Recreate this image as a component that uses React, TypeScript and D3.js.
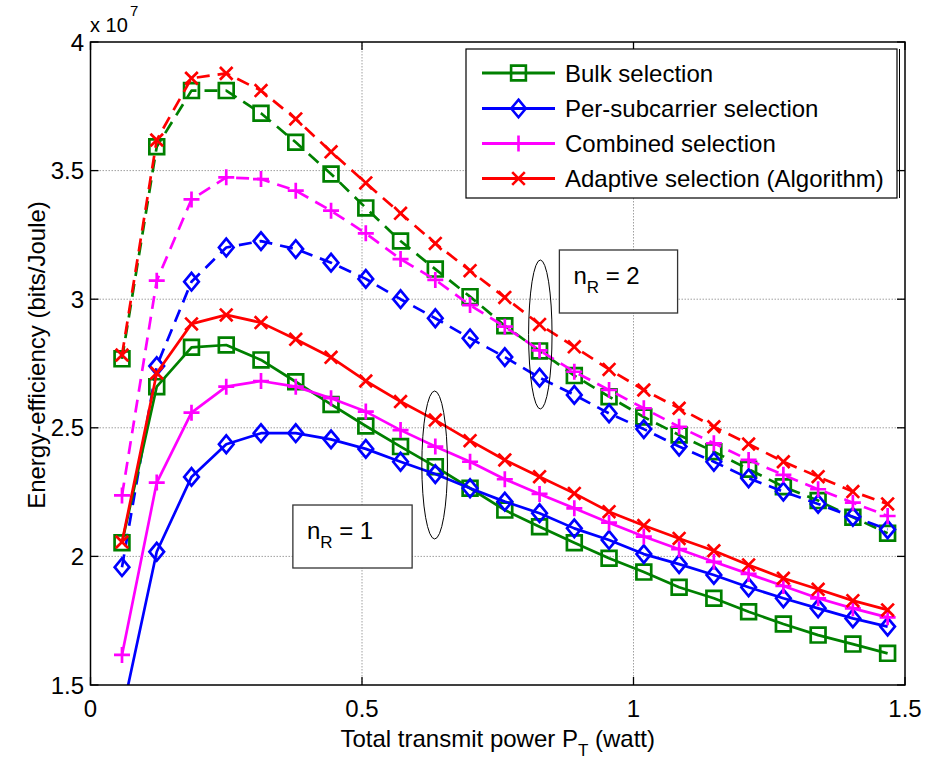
import React from 'react';
import * as d3 from 'd3';

// ---------- data ----------
const powerW = [0.058, 0.122, 0.186, 0.25, 0.314, 0.378, 0.443, 0.507, 0.571, 0.635, 0.699, 0.763,
  0.827, 0.891, 0.955, 1.019, 1.084, 1.148, 1.212, 1.276, 1.34, 1.404, 1.468];

// n_R = 2 (dashed)
const bulkNR2 = [2.768, 3.593, 3.811, 3.811, 3.723, 3.61, 3.487, 3.355, 3.226, 3.117, 3.01, 2.897,
  2.799, 2.703, 2.621, 2.542, 2.472, 2.407, 2.339, 2.271, 2.217, 2.152, 2.09];
const perSubNR2 = [1.958, 2.74, 3.068, 3.201, 3.226, 3.195, 3.142, 3.079, 3.0, 2.926, 2.848, 2.775,
  2.695, 2.628, 2.556, 2.495, 2.427, 2.368, 2.304, 2.252, 2.204, 2.154, 2.105];
const combinedNR2 = [2.237, 3.072, 3.388, 3.474, 3.467, 3.422, 3.344, 3.256, 3.156, 3.075, 2.977, 2.893,
  2.801, 2.718, 2.647, 2.576, 2.504, 2.44, 2.375, 2.317, 2.261, 2.209, 2.157];
const adaptiveNR2 = [2.783, 3.619, 3.859, 3.878, 3.811, 3.701, 3.573, 3.452, 3.334, 3.217, 3.111, 3.007,
  2.902, 2.815, 2.727, 2.647, 2.576, 2.504, 2.437, 2.368, 2.31, 2.252, 2.204];

// n_R = 1 (solid)
const bulkNR1 = [2.053, 2.66, 2.813, 2.822, 2.764, 2.679, 2.591, 2.507, 2.427, 2.349, 2.265, 2.18,
  2.115, 2.053, 1.993, 1.939, 1.88, 1.837, 1.785, 1.737, 1.694, 1.659, 1.623];
const perSubNR1 = [1.388, 2.018, 2.309, 2.436, 2.479, 2.479, 2.455, 2.418, 2.368, 2.32, 2.265, 2.213,
  2.168, 2.109, 2.064, 2.009, 1.97, 1.928, 1.88, 1.837, 1.798, 1.759, 1.727];
const combinedNR1 = [1.617, 2.287, 2.559, 2.66, 2.682, 2.66, 2.615, 2.563, 2.491, 2.427, 2.368, 2.3,
  2.243, 2.187, 2.131, 2.077, 2.028, 1.979, 1.932, 1.885, 1.837, 1.798, 1.763];
const adaptiveNR1 = [2.056, 2.713, 2.904, 2.939, 2.909, 2.844, 2.774, 2.682, 2.602, 2.53, 2.45, 2.375,
  2.31, 2.245, 2.174, 2.12, 2.07, 2.022, 1.967, 1.915, 1.872, 1.828, 1.792];

const seriesNames = ['Bulk selection', 'Per-subcarrier selection', 'Combined selection', 'Adaptive selection (Algorithm)'];
const seriesColors = ['#008000', '#0000ff', '#ff00ff', '#ff0000'];
const seriesMarkers = ['square', 'diamond', 'plus', 'cross'];
const nr2Values = [bulkNR2, perSubNR2, combinedNR2, adaptiveNR2];
const nr1Values = [bulkNR1, perSubNR1, combinedNR1, adaptiveNR1];

const xTicks = [0, 0.5, 1, 1.5];
const xTickLabels = ['0', '0.5', '1', '1.5'];
const yTicks = [1.5, 2, 2.5, 3, 3.5, 4];
const yTickLabels = ['1.5', '2', '2.5', '3', '3.5', '4'];

// annotations in data units
const ellipses = [
  { cx: 0.8284, cy: 2.8628, rx: 0.0216, ry: 0.2897 },
  { cx: 0.6338, cy: 2.3554, rx: 0.0236, ry: 0.2877 },
];
const nrBoxes = [
  { x0: 0.8635, x1: 1.0812, y0: 3.1913, y1: 2.9463, label: '2' },
  { x0: 0.3727, x1: 0.5923, y0: 2.1998, y1: 1.9549, label: '1' },
];

// ---------- layout ----------
const W = 926;
const H = 762;
const FONT = '"Liberation Sans", Arial, Helvetica, sans-serif';
const PL = 90.5, PR = 905, PT = 42, PB = 685;

const x = d3.scaleLinear().domain([0, 1.5]).range([PL, PR]);
const y = d3.scaleLinear().domain([1.5, 4]).range([PB, PT]);

function markerPath(kind: string, cx: number, cy: number): string {
  const p = d3.path();
  if (kind === 'square') {
    const h = 7.4;
    p.rect(cx - h, cy - h, 2 * h, 2 * h);
  } else if (kind === 'diamond') {
    const hw = 7.3, hh = 8.8;
    p.moveTo(cx, cy - hh);
    p.lineTo(cx + hw, cy);
    p.lineTo(cx, cy + hh);
    p.lineTo(cx - hw, cy);
    p.closePath();
  } else if (kind === 'plus') {
    const h = 8;
    p.moveTo(cx - h, cy);
    p.lineTo(cx + h, cy);
    p.moveTo(cx, cy - h);
    p.lineTo(cx, cy + h);
  } else {
    const h = 6.3;
    p.moveTo(cx - h, cy - h);
    p.lineTo(cx + h, cy + h);
    p.moveTo(cx - h, cy + h);
    p.lineTo(cx + h, cy - h);
  }
  return p.toString();
}

const lineGen = d3
  .line<number>()
  .x((_, i) => x(powerW[i]))
  .y((d) => y(d));

function Series({ values, color, marker, dashed }: { values: number[]; color: string; marker: string; dashed: boolean }) {
  return (
    <g>
      <path
        d={lineGen(values) || ''}
        fill="none"
        stroke={color}
        strokeWidth={2.7}
        strokeDasharray={dashed ? '13 8' : undefined}
        strokeLinejoin="round"
      />
      {values.map((v, i) => (
        <path
          key={i}
          d={markerPath(marker, x(powerW[i]), y(v))}
          fill="none"
          stroke={color}
          strokeWidth={2.7}
        />
      ))}
    </g>
  );
}

export default function App() {
  const legendX0 = 466, legendX1 = 897, legendY0 = 49, legendY1 = 198;
  const legendRows = [73, 108.5, 143.5, 178.5];
  return (
    <svg
      width={W}
      height={H}
      viewBox={`0 0 ${W} ${H}`}
      style={{ position: 'absolute', left: 0, top: 0, background: '#fff' }}
      fontFamily={FONT}
    >
      <rect x={0} y={0} width={W} height={H} fill="#fff" />
      <defs>
        <clipPath id="plotClip">
          <rect x={PL} y={PT} width={PR - PL} height={PB - PT} />
        </clipPath>
      </defs>

      {/* grid */}
      <g stroke="#a0a0a0" strokeWidth={1} strokeDasharray="1.5 1.5">
        {xTicks.slice(1, -1).map((t) => (
          <line key={'gx' + t} x1={x(t)} x2={x(t)} y1={PT} y2={PB} />
        ))}
        {yTicks.slice(1, -1).map((t) => (
          <line key={'gy' + t} x1={PL} x2={PR} y1={y(t)} y2={y(t)} />
        ))}
      </g>

      {/* series */}
      <g clipPath="url(#plotClip)">
        {nr2Values.map((vals, i) => (
          <Series key={'d' + i} values={vals} color={seriesColors[i]} marker={seriesMarkers[i]} dashed={true} />
        ))}
        {nr1Values.map((vals, i) => (
          <Series key={'s' + i} values={vals} color={seriesColors[i]} marker={seriesMarkers[i]} dashed={false} />
        ))}
      </g>

      {/* ellipses */}
      {ellipses.map((e, i) => (
        <ellipse
          key={'e' + i}
          cx={x(e.cx)}
          cy={y(e.cy)}
          rx={x(e.cx + e.rx) - x(e.cx)}
          ry={y(e.cy) - y(e.cy + e.ry)}
          fill="none"
          stroke="#000"
          strokeWidth={1}
        />
      ))}

      {/* n_R boxes */}
      {nrBoxes.map((b, i) => {
        const bx = x(b.x0), by = y(b.y0);
        const bw = x(b.x1) - x(b.x0), bh = y(b.y1) - y(b.y0);
        return (
          <g key={'b' + i}>
            <rect x={bx} y={by} width={bw} height={bh} fill="#fff" stroke="#333" strokeWidth={1.3} />
            <text x={bx + 14} y={by + 34} fontSize={24} fill="#000">
              <tspan>n</tspan>
              <tspan fontSize={17} dy={9}>R</tspan>
              <tspan dy={-9}>{' = ' + b.label}</tspan>
            </text>
          </g>
        );
      })}

      {/* axes box */}
      <rect x={PL} y={PT} width={PR - PL} height={PB - PT} fill="none" stroke="#000" strokeWidth={1.5} />
      {/* ticks */}
      <g stroke="#000" strokeWidth={1.3}>
        {xTicks.map((t) => (
          <g key={'tx' + t}>
            <line x1={x(t)} x2={x(t)} y1={PB} y2={PB - 8} />
            <line x1={x(t)} x2={x(t)} y1={PT} y2={PT + 8} />
          </g>
        ))}
        {yTicks.map((t) => (
          <g key={'ty' + t}>
            <line x1={PL} x2={PL + 8} y1={y(t)} y2={y(t)} />
            <line x1={PR} x2={PR - 8} y1={y(t)} y2={y(t)} />
          </g>
        ))}
      </g>

      {/* tick labels */}
      {xTicks.map((t, i) => (
        <text key={'lx' + t} x={x(t)} y={717} fontSize={24} textAnchor="middle" fill="#000">
          {xTickLabels[i]}
        </text>
      ))}
      {yTicks.map((t, i) => (
        <text key={'ly' + t} x={84} y={y(t) + 8.5} fontSize={24} textAnchor="end" fill="#000">
          {yTickLabels[i]}
        </text>
      ))}

      {/* exponent */}
      <text x={90} y={32} fontSize={20} fill="#000">x 10</text>
      <text x={130} y={16} fontSize={15} fill="#000">7</text>

      {/* axis labels */}
      <text x={(PL + PR) / 2} y={747} fontSize={24} textAnchor="middle" fill="#000">
        <tspan>Total transmit power P</tspan>
        <tspan fontSize={17} dy={9}>T</tspan>
        <tspan dy={-9}> (watt)</tspan>
      </text>
      <text
        transform={`translate(45, 355) rotate(-90)`}
        fontSize={24}
        textAnchor="middle"
        fill="#000"
      >
        Energy-efficiency (bits/Joule)
      </text>

      {/* legend */}
      <rect x={legendX0} y={legendY0} width={legendX1 - legendX0} height={legendY1 - legendY0} fill="#fff" stroke="#000" strokeWidth={1.2} />
      <line x1={899.5} x2={899.5} y1={legendY0} y2={legendY1} stroke="#000" strokeWidth={1} />
      {seriesNames.map((name, i) => (
        <g key={'lg' + i}>
          <line x1={482} x2={555} y1={legendRows[i]} y2={legendRows[i]} stroke={seriesColors[i]} strokeWidth={2.8} />
          <path d={markerPath(seriesMarkers[i], 518.5, legendRows[i])} fill="none" stroke={seriesColors[i]} strokeWidth={2.6} />
          <text x={565} y={legendRows[i] + 8.5} fontSize={24} fill="#000">
            {name}
          </text>
        </g>
      ))}
    </svg>
  );
}
